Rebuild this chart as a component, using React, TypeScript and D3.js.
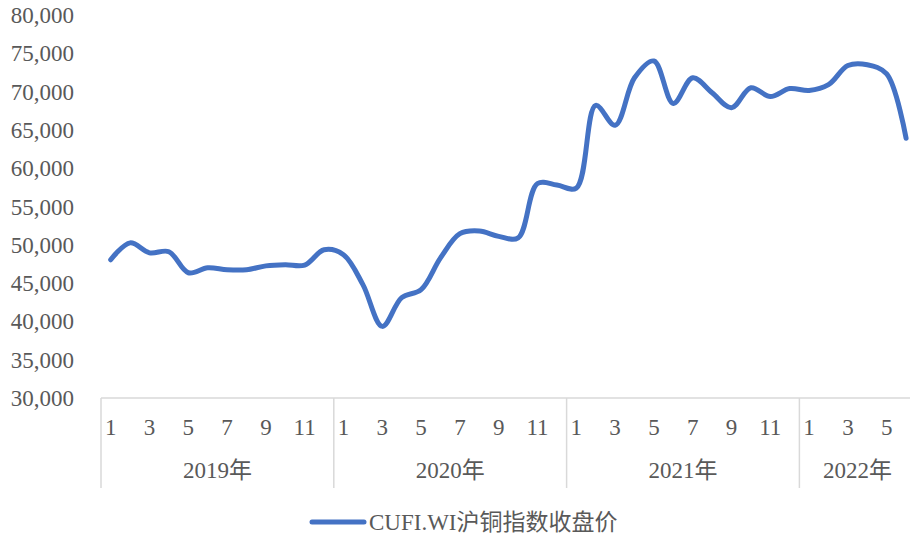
import React from "react";
import * as d3 from "d3";

const years = ["2019年", "2020年", "2021年", "2022年"];
const monthsPerYear = [12, 12, 12, 6];
const yTicks = [30000, 35000, 40000, 45000, 50000, 55000, 60000, 65000, 70000, 75000, 80000];
const seriesName = "CUFI.WI沪铜指数收盘价";
const values = [
  // 2019
  48050, 50250, 48950, 49100, 46350, 47000, 46750, 46750, 47250, 47400, 47350, 49350,
  // 2020
  48700, 44800, 39350, 43100, 44150, 48300, 51450, 51800, 51100, 50900, 58000, 57800,
  // 2021
  57400, 68200, 65600, 71800, 74000, 68450, 71800, 69850, 67900, 70500, 69350, 70400,
  // 2022
  70150, 70900, 73400, 73500, 72300, 63900,
];

const FONT = "'Times New Roman', 'Liberation Serif', 'Noto Sans CJK SC', serif";
const TEXT = "#595959";
const AXIS = "#d9d9d9";

export default function App() {
  const W = 910, H = 538;
  const left = 101, step = 19.4;
  const top = 15, bottom = 398;
  const cats: string[] = [];
  years.forEach((y, yi) => {
    for (let m = 1; m <= monthsPerYear[yi]; m++) cats.push(`${y}-${m}`);
  });
  const x = d3.scaleBand<string>().domain(cats).range([left, left + step * cats.length]).padding(0);
  const y = d3.scaleLinear().domain([30000, 80000]).range([bottom, top]);
  const pts: [number, number][] = values.map((v, i) => [x(cats[i])! + x.bandwidth() / 2, y(v)]);
  const line = d3.line().curve(d3.curveCatmullRom.alpha(0.5))(pts) || "";
  const fmt = d3.format(",");

  const separators: number[] = [];
  let idx = 0;
  const yearCenters: number[] = [];
  years.forEach((_, yi) => {
    const start = x(cats[idx])!;
    separators.push(start);
    const end = start + step * monthsPerYear[yi];
    yearCenters.push((start + end) / 2);
    idx += monthsPerYear[yi];
  });
  separators.push(left + step * cats.length);

  return (
    <svg width={W} height={H} style={{ position: "absolute", left: 0, top: 0 }} fontFamily={FONT}>
      <rect width={W} height={H} fill="#fff" />
      {yTicks.map((t) => (
        <text key={t} x={74} y={y(t)} dy="0.35em" textAnchor="end" fontSize={23} fill={TEXT}>
          {fmt(t)}
        </text>
      ))}
      <line x1={left} x2={left + step * cats.length} y1={bottom} y2={bottom} stroke={AXIS} strokeWidth={1.5} />
      {separators.map((s, i) => (
        <line key={i} x1={s} x2={s} y1={bottom} y2={488} stroke={AXIS} strokeWidth={1.5} />
      ))}
      {cats.map((c, i) => {
        const m = +c.split("-")[1];
        if (m % 2 === 0) return null;
        return (
          <text key={c} x={x(c)! + x.bandwidth() / 2} y={427} dy="0.35em" textAnchor="middle" fontSize={23} fill={TEXT}>
            {m}
          </text>
        );
      })}
      {years.map((yr, i) => (
        <text key={yr} x={yearCenters[i]} y={470} dy="0.35em" textAnchor="middle" fontSize={23} fill={TEXT}>
          {yr}
        </text>
      ))}
      <path d={line} fill="none" stroke="#4472C4" strokeWidth={5} strokeLinecap="round" strokeLinejoin="round" />
      <line x1={312} x2={364} y1={522} y2={522} stroke="#4472C4" strokeWidth={5} strokeLinecap="round" />
      <text x={369} y={522} dy="0.35em" fontSize={23} fill={TEXT}>
        {seriesName}
      </text>
    </svg>
  );
}
